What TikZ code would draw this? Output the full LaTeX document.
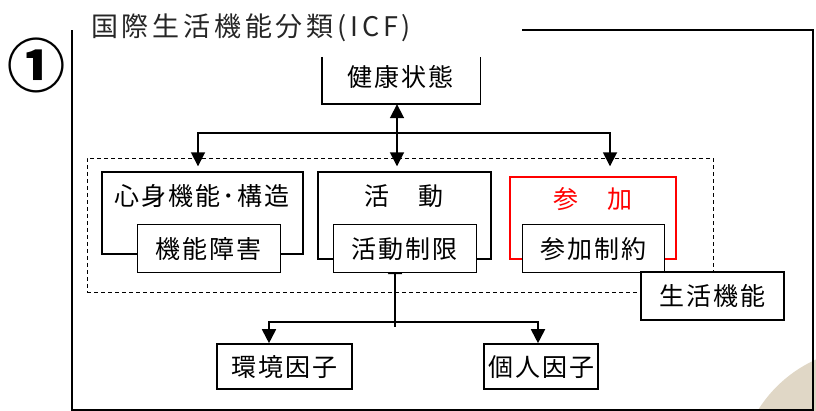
\documentclass[tikz,border=0pt]{standalone}
\usepackage{fontspec}
\newfontfamily\jp{Noto Sans CJK JP}[LetterSpace=8]
\newfontfamily\jpt{Noto Sans CJK JP}[LetterSpace=14]
\newfontfamily\jpn{Noto Sans CJK JP}
\usetikzlibrary{arrows.meta,backgrounds}
\definecolor{beige}{RGB}{224,215,198}
\definecolor{pred}{RGB}{255,0,0}
\tikzset{
  txt/.style={font=\jp\fontsize{25}{30}\selectfont, inner sep=0pt},
  outerbox/.style={draw, line width=1.4pt, inner sep=0pt},
  innerbox/.style={draw, fill=white, line width=0.9pt, inner sep=0pt, font=\jp\fontsize{25}{30}\selectfont, text height=26pt, text depth=4pt},
  plainbox/.style={draw, fill=white, line width=1.6pt, inner sep=0pt, font=\jp\fontsize{25}{30}\selectfont, text height=24pt, text depth=4pt},
  ln/.style={line width=1.8pt},
  arr/.style={line width=1.8pt, -{Triangle[length=14pt,width=14pt]}},
  darr/.style={line width=1.8pt, {Triangle[length=14pt,width=14pt]}-{Triangle[length=14pt,width=14pt]}}
}
\begin{document}
\begin{tikzpicture}[x=1pt,y=-1pt]
\useasboundingbox (0,0) rectangle (816,411);
\begin{scope}
  \clip (0,0) rectangle (816,411);
  \fill[beige] (870,480) circle[radius=132];
\end{scope}

% title and number
\node[anchor=west, font=\jpt\fontsize{27}{30}\selectfont, text=black!85, inner sep=0pt] (title) at (91,28) {国際生活機能分類(ICF)};
\node[font=\jpn\bfseries\fontsize{58}{64}\selectfont, inner sep=0pt] (num) at (37,65) {①};

% frame
\draw[line width=2pt] (522,30) -- (813,30) -- (813,410) -- (72,410) -- (72,30);

% health condition (open top)
\node[minimum width=158pt, minimum height=47pt, inner sep=0pt] (kenko) at (401,80.5) {};
\draw[line width=1.4pt] (kenko.north west) -- (kenko.south west) -- (kenko.south east) -- (kenko.north east);
\node[txt] (kenkoT) at (400,77) {健康状態};

% functioning dashed region
\node[draw, dash pattern=on 4pt off 3pt, line width=0.9pt, minimum width=626pt, minimum height=134pt, inner sep=0pt] (life) at (400,225) {};

% outer boxes
\node[outerbox, minimum width=201pt, minimum height=82pt] (shin) at (202.5,213) {};
\node[outerbox, minimum width=173pt, minimum height=87pt] (katsu) at (404.5,215.5) {};
\node[outerbox, draw=pred, minimum width=166pt, minimum height=82pt] (sanka) at (593,218) {};
\node[txt] (shinT) at (202,196) {心身機能･構造};
\node[txt] (katsuT) at (404,196) {活　動};
\node[txt, text=pred] (sankaT) at (593,199) {参　加};

% arrow into activity limitation (head partly hidden)
\begin{scope}[on background layer]
  \coordinate (vb) at (395,327);
  \node[minimum width=143pt, minimum height=48pt, inner sep=0pt] (katsuIghost) at (404.5,248) {};
  \draw[arr] (vb) -- ([yshift=12pt]vb |- katsuIghost.south);
\end{scope}

% inner boxes
\node[innerbox, minimum width=143pt, minimum height=48pt] (shinI) at (208.5,248) {機能障害};
\node[innerbox, minimum width=143pt, minimum height=48pt] (katsuI) at (404.5,248) {活動制限};
\node[innerbox, minimum width=142pt, minimum height=48pt] (sankaI) at (593,248) {参加制約};

% functioning label
\node[plainbox, line width=2.2pt, minimum width=143pt, minimum height=48pt] (seikatsu) at (712.5,296) {生活機能};

% contextual factors
\node[plainbox, minimum width=135pt, minimum height=45pt] (kankyo) at (284.5,366.5) {環境因子};
\node[plainbox, minimum width=114pt, minimum height=45pt] (kojin) at (541,366.5) {個人因子};

% top connectors
\coordinate (hub) at (397,133);
\coordinate (hL) at (198,133);
\coordinate (hR) at (610,133);
\draw[darr] (hub |- kenko.south) -- ([yshift=5pt]hub |- katsu.north);
\draw[arr] (hub) -- (hL) -- ([yshift=5pt]hL |- shin.north);
\draw[arr] (hub) -- (hR) -- ([yshift=10pt]hR |- sanka.north);

% bottom connectors
\coordinate (bj) at (395,322);
\coordinate (bL) at (269,322);
\coordinate (bR) at (538,322);
\draw[arr] (bj) -- (bL) -- (bL |- kankyo.north);
\draw[arr] (bj) -- (bR) -- (bR |- kojin.north);
\end{tikzpicture}
\end{document}
